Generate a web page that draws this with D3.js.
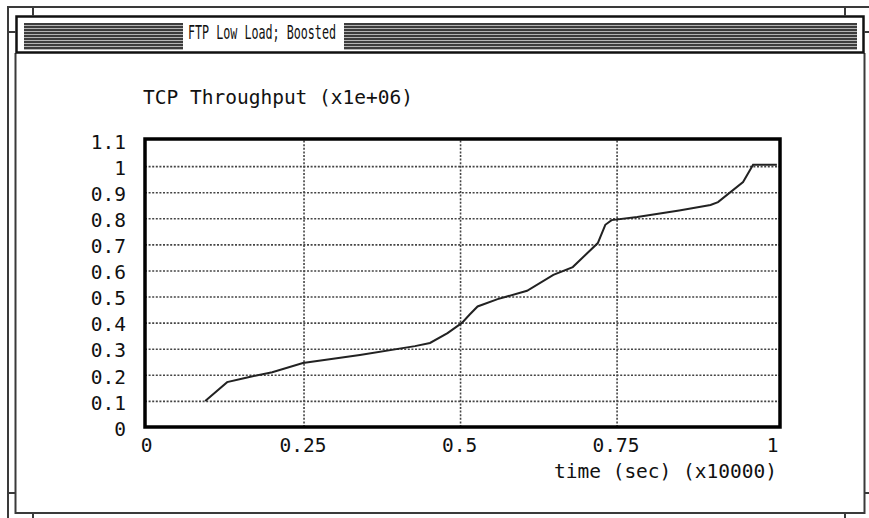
<html>
<head>
  <meta charset="UTF-8">
  <title>FTP Low Load; Boosted</title>
  <script src="https://d3js.org/d3.v7.min.js"></script>
  <style>
    body { margin: 0; background: white; }
    text { font-family: "DejaVu Sans Mono", monospace; fill: #111; }
  </style>
</head>
<body>
<svg></svg>
<script>

    // Data (time in x10000 sec, throughput in x1e+06)
    const timeValues = [0.093, 0.128, 0.16, 0.2, 0.249, 0.34, 0.428, 0.452, 0.48, 0.503, 0.515, 0.528,
                        0.56, 0.607, 0.649, 0.68, 0.72, 0.732, 0.742, 0.783, 0.85, 0.9, 0.912, 0.952, 0.968, 1.006];
    const throughputValues = [0.10, 0.172, 0.19, 0.21, 0.245, 0.276, 0.31, 0.322, 0.36, 0.399, 0.43, 0.462,
                              0.49, 0.522, 0.583, 0.613, 0.705, 0.775, 0.793, 0.805, 0.83, 0.851, 0.862, 0.939, 1.005, 1.005];

    const yTicks = [0, 0.1, 0.2, 0.3, 0.4, 0.5, 0.6, 0.7, 0.8, 0.9, 1, 1.1];
    const yTickLabels = ["0", "0.1", "0.2", "0.3", "0.4", "0.5", "0.6", "0.7", "0.8", "0.9", "1", "1.1"];
    const xTicks = [0, 0.25, 0.5, 0.75, 1];
    const xTickLabels = ["0", "0.25", "0.5", "0.75", "1"];

    const chartTitle = "FTP Low Load; Boosted";
    const yTitle = "TCP Throughput (x1e+06)";
    const xTitle = "time (sec) (x10000)";

    // Setup

    const width = 869;
    const height = 518;

    let svg = d3.select("svg")
                .attr("width", width)
                .attr("height", height);

    svg.append("rect").attr("width", width).attr("height", height).attr("fill", "white");

    // Window frame

    const frame = svg.append("g").attr("stroke", "#3a3a3a").attr("fill", "none");
    frame.append("path").attr("d", "M8,518 V7 H869").attr("stroke-width", 2);
    frame.append("path").attr("d", "M15.5,53 V513 H864.5 V53").attr("stroke-width", 2);
    frame.append("rect").attr("x", 16.5).attr("y", 16.5).attr("width", 847).attr("height", 36)
         .attr("stroke", "#111").attr("stroke-width", 2.5);
    [[33, 7, 33, 16], [845, 7, 845, 16], [8, 32, 16, 32], [864, 32, 869, 32],
     [8, 493, 15, 493], [865, 493, 869, 493], [33, 513, 33, 518], [845, 513, 845, 518]]
        .forEach(l => frame.append("line").attr("x1", l[0]).attr("y1", l[1]).attr("x2", l[2]).attr("y2", l[3])
                            .attr("stroke-width", 2));

    // Title bar stripes
    [[24, 183], [344, 857]].forEach(s => {
        svg.append("rect").attr("x", s[0]).attr("y", 23).attr("width", s[1] - s[0]).attr("height", 27)
           .attr("fill", "#b4b4b4");
        d3.range(9).forEach(i => {
            svg.append("line").attr("x1", s[0]).attr("x2", s[1])
               .attr("y1", 24 + 3 * i).attr("y2", 24 + 3 * i)
               .attr("stroke", "#3c3c3c").attr("stroke-width", 2);
        });
    });

    svg.append("text")
       .attr("x", 188).attr("y", 39)
       .attr("textLength", 148).attr("lengthAdjust", "spacingAndGlyphs")
       .style("font-size", "19px")
       .text(chartTitle);

    // Scales

    const plotLeft = 147, plotRight = 780, plotTop = 139, plotBottom = 427;
    const xScale = d3.scaleLinear().domain([0, 1.011]).range([plotLeft, plotRight]);
    const yScale = d3.scaleLinear().domain([0, 1.1]).range([plotBottom, 140]);

    // Grid lines

    let hGrid = d3.axisLeft(yScale).tickValues(yTicks.slice(1, -1)).tickFormat("").tickSize(-(plotRight - 145));
    svg.append("g")
       .attr("transform", `translate(145, 0)`)
       .call(hGrid)
       .call(g => g.select(".domain").remove())
       .call(g => g.selectAll("line").attr("stroke", "#444").attr("stroke-width", 1.6).attr("stroke-dasharray", "2,1.6"));

    let vGrid = d3.axisBottom(xScale).tickValues(xTicks.slice(1, -1)).tickFormat("").tickSize(-(plotBottom - plotTop));
    svg.append("g")
       .attr("transform", `translate(0, ${plotBottom})`)
       .call(vGrid)
       .call(g => g.select(".domain").remove())
       .call(g => g.selectAll("line").attr("stroke", "#444").attr("stroke-width", 1.6).attr("stroke-dasharray", "2,1.6"));

    // Axes labels

    let leftAxis = d3.axisLeft(yScale).tickValues(yTicks).tickSize(0).tickPadding(19)
                     .tickFormat((d, i) => yTickLabels[i]);
    svg.append("g")
       .attr("transform", `translate(145, 2)`)
       .call(leftAxis)
       .call(g => g.select(".domain").remove())
       .call(g => g.selectAll("text").style("font-size", "19.5px").attr("fill", "#111").style("font-family", "DejaVu Sans Mono"));

    let bottomAxis = d3.axisBottom(xScale).tickValues(xTicks).tickSize(0).tickPadding(11)
                       .tickFormat((d, i) => xTickLabels[i]);
    svg.append("g")
       .attr("transform", `translate(-1, ${plotBottom})`)
       .call(bottomAxis)
       .call(g => g.select(".domain").remove())
       .call(g => g.selectAll("text").style("font-size", "19.5px").attr("fill", "#111").style("font-family", "DejaVu Sans Mono"));

    svg.append("text").attr("x", 143).attr("y", 104).style("font-size", "19.5px").text(yTitle);
    svg.append("text").attr("x", 777).attr("y", 478).attr("text-anchor", "end").style("font-size", "19.5px").text(xTitle);

    // Plot line

    const points = timeValues.map((t, i) => [t, throughputValues[i]]);
    const line = d3.line().x(d => xScale(d[0])).y(d => yScale(d[1]));
    svg.append("path")
       .datum(points)
       .attr("d", line)
       .attr("fill", "none")
       .attr("stroke", "#222")
       .attr("stroke-width", 2);

    // Plot frame
    svg.append("rect")
       .attr("x", 145).attr("y", plotTop).attr("width", plotRight - 145).attr("height", plotBottom - plotTop)
       .attr("fill", "none").attr("stroke", "#000").attr("stroke-width", 3.5);

</script>
</body>
</html>
